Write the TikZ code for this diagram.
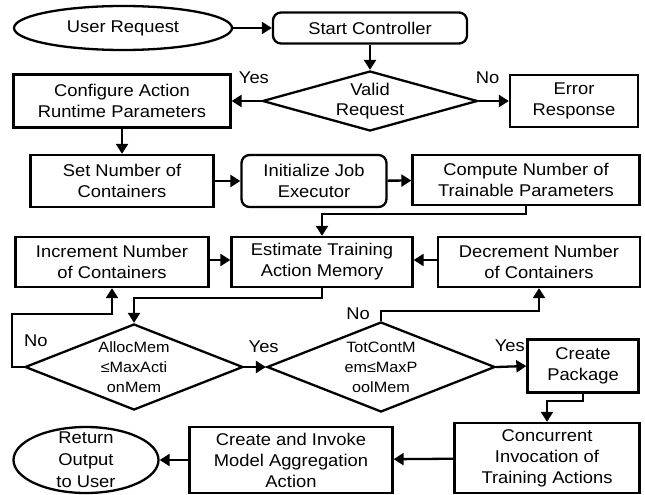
\documentclass[tikz,border=0pt]{standalone}
\usepackage{fontspec}
\setmainfont[FakeStretch=1.08]{Liberation Sans}
\usetikzlibrary{shapes.geometric,arrows.meta}

\begin{document}
\begin{tikzpicture}[x=1pt, y=-1pt, line width=2.3pt,
    box/.style={draw, align=center, inner sep=0pt, font=\fontsize{17}{21}\selectfont},
    rbox/.style={box, rounded corners=8pt},
    term/.style={draw, ellipse, inner sep=0pt, align=center, font=\fontsize{17}{21}\selectfont},
    decision/.style={draw, diamond, inner sep=0pt},
    dtext/.style={align=center, inner sep=0pt, font=\fontsize{17}{20}\selectfont},
    mtext/.style={align=center, inner sep=0pt, font=\fontsize{15}{20}\selectfont},
    lbl/.style={inner sep=0pt, font=\fontsize{17}{19}\selectfont},
    flow/.style={-{Triangle[length=10pt,width=12pt]}}]
      \useasboundingbox (0,0) rectangle (645,495);
      \node [term, minimum width=218, minimum height=44] (user) at (123,28) {User Request};
      \node [rbox, minimum width=194, minimum height=31] (start) at (370,28) {Start Controller};
      \node [decision, minimum width=215, minimum height=60] (valid) at (370,101) {};
      \node [dtext] (validtxt) at (valid) {Valid\\Request};
      \node [box, minimum width=217, minimum height=53] (config) at (122,101) {Configure Action\\Runtime Parameters};
      \node [box, minimum width=128, minimum height=52] (error) at (574,101) {Error\\Response};
      \node [box, minimum width=183, minimum height=52] (set) at (122,181) {Set Number of\\Containers};
      \node [rbox, minimum width=145, minimum height=52] (init) at (314,181) {Initialize Job\\Executor};
      \node [box, minimum width=227, minimum height=50] (compute) at (526,180) {Compute Number of\\Trainable Parameters};
      \node [box, minimum width=193, minimum height=50] (inc) at (112,262) {Increment Number\\of Containers};
      \node [box, minimum width=181, minimum height=50] (estimate) at (322,262) {Estimate Training\\Action Memory};
      \node [box, minimum width=202, minimum height=50] (dec) at (539,262) {Decrement Number\\of Containers};
      \node [decision, minimum width=218, minimum height=86] (alloc) at (134,367) {};
      \node [mtext] (alloctxt) at (alloc) {AllocMem\\≤MaxActi\\onMem};
      \node [decision, minimum width=228, minimum height=90] (tot) at (381,367) {};
      \node [mtext] (tottxt) at (tot) {TotContM\\em≤MaxP\\oolMem};
      \node [box, minimum width=111, minimum height=53] (pkg) at (583,366) {Create\\Package};
      \node [box, minimum width=185, minimum height=70] (conc) at (547,458) {Concurrent\\Invocation of\\Training Actions};
      \node [box, minimum width=203, minimum height=66] (agg) at (291,460) {Create and Invoke\\Model Aggregation\\Action};
      \node [term, minimum width=145, minimum height=66] (ret) at (86,460) {};
      \node [dtext, font=\fontsize{17}{22}\selectfont] (rettxt) at (ret) {Return\\Output\\to User};
      \draw [flow] (user) -- (start);
      \draw [flow] (start) -- (valid);
      \draw [flow] (valid.west) -- node [lbl, pos=0.25, above=16pt] (yes1) {Yes} (config.east);
      \draw [flow] (valid.east) -- node [lbl, pos=0.3, above=16pt] (no1) {No} (error.west);
      \draw [flow] (config) -- (set);
      \draw [flow] (set) -- (init);
      \draw [flow] (init) -- (compute);
      \draw [flow] (compute.south) -- ++(0,8) -| (estimate.north);
      \draw [flow] (inc.east |- 0,260) -- (estimate.west |- 0,260);
      \draw [flow] (dec.west |- 0,260) -- (estimate.east |- 0,260);
      \draw [flow] (estimate.south) -- ++(0,10) -| (alloc.north);
      \draw [flow] (alloc.west) node [lbl, above=19pt, xshift=12pt] (no2) {No} -- ++(-12,0) |- ([yshift=-26pt]inc.south) -- (inc.south);
      \draw [flow] (alloc.east) -- node [lbl, pos=0.9, above=13pt] (yes2) {Yes} (tot.west);
      \draw [flow] (tot.north) -- ++(0,-10) node [lbl, left=10pt, yshift=-3pt] (no3) {No} -| (dec.south);
      \draw [flow] (tot.east) -- node [lbl, pos=0.45, above=14pt] (yes3) {Yes} (pkg.west);
      \draw [flow] (pkg.south) -- ++(0,7) -| (conc.north);
      \draw [flow] (conc) -- (agg);
      \draw [flow] (agg) -- (ret);
\end{tikzpicture}
\end{document}
